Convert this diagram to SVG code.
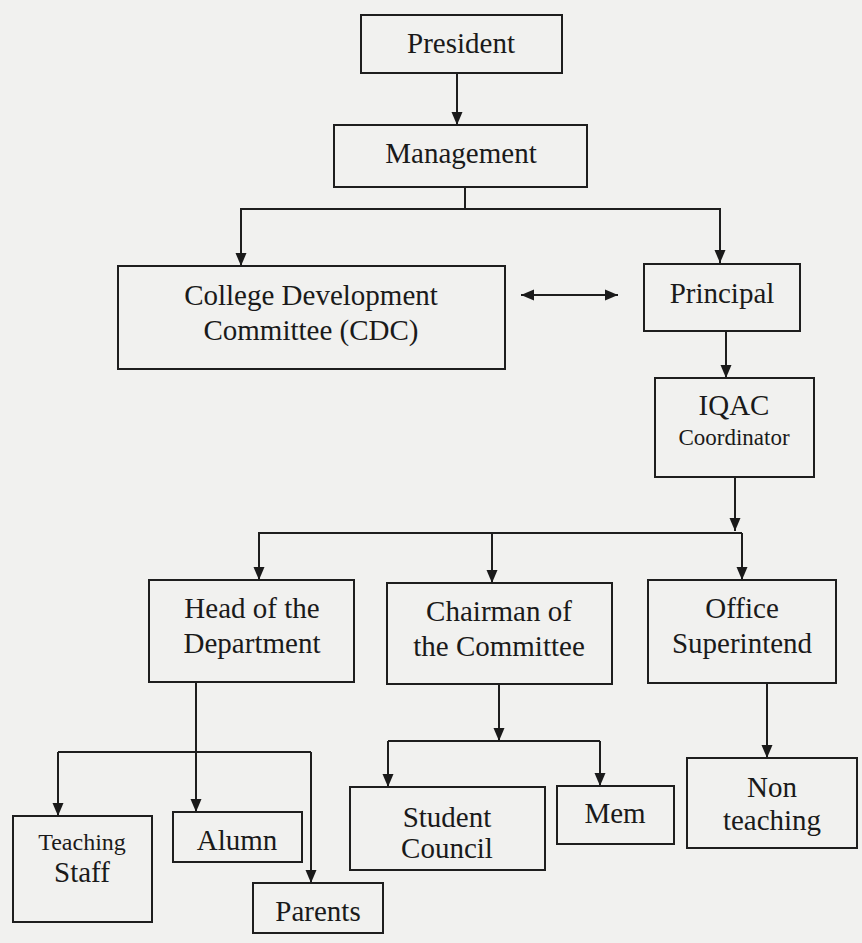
<svg xmlns="http://www.w3.org/2000/svg" width="862" height="943" viewBox="0 0 862 943">
<defs>
<marker id="arr" markerUnits="userSpaceOnUse" markerWidth="14" markerHeight="12" refX="13" refY="6" orient="auto-start-reverse">
<path d="M0,0.5 L13,6 L0,11.5 z" fill="#1a1a1a"/>
</marker>
<style>
.box{fill:none;stroke:#1e1e1e;stroke-width:2}
.t{font-family:"Liberation Serif","Times New Roman",serif;font-size:29px;fill:#1a1a1a;text-anchor:middle}
.s{font-size:23px}
.c{fill:none;stroke:#1e1e1e;stroke-width:2}
.a{marker-end:url(#arr)}
</style>
</defs>
<rect x="0" y="0" width="862" height="943" fill="#f1f1ef"/>

<g id="connectors">
<path class="c a" d="M457,73 V125"/>
<path class="c a" d="M465,187 V209 H241 V266"/>
<path class="c a" d="M465,209 H720 V263"/>
<path class="c a" d="M521,295 H618" marker-start="url(#arr)"/>
<path class="c a" d="M726,331 V378"/>
<path class="c a" d="M735,477 V531"/>
<path class="c a" d="M742,533 H259 V580"/>
<path class="c a" d="M492,533 V583"/>
<path class="c a" d="M742,533 V580"/>
<path class="c" d="M196,682 V752 M58,752 H311"/>
<path class="c a" d="M58,752 V816"/>
<path class="c a" d="M196,752 V812"/>
<path class="c a" d="M311,752 V883"/>
<path class="c a" d="M499,684 V741"/>
<path class="c" d="M388,741 H600"/>
<path class="c a" d="M388,741 V787"/>
<path class="c a" d="M600,741 V786"/>
<path class="c a" d="M767,683 V758"/>
</g>

<g id="president">
<rect class="box" x="361" y="15" width="201" height="58"/>
<text class="t" x="461" y="53">President</text>
</g>
<g id="management">
<rect class="box" x="334" y="125" width="253" height="62"/>
<text class="t" x="461" y="163">Management</text>
</g>
<g id="cdc">
<rect class="box" x="118" y="266" width="387" height="103"/>
<text class="t" x="311" y="305">College Development</text>
<text class="t" x="311" y="340">Committee (CDC)</text>
</g>
<g id="principal">
<rect class="box" x="644" y="264" width="156" height="67"/>
<text class="t" x="722" y="303">Principal</text>
</g>
<g id="iqac">
<rect class="box" x="655" y="378" width="159" height="99"/>
<text class="t" x="734" y="415">IQAC</text>
<text class="t s" x="734" y="445">Coordinator</text>
</g>
<g id="hod">
<rect class="box" x="149" y="580" width="205" height="102"/>
<text class="t" x="252" y="618">Head of the</text>
<text class="t" x="252" y="653">Department</text>
</g>
<g id="chairman">
<rect class="box" x="387" y="583" width="225" height="101"/>
<text class="t" x="499" y="621">Chairman of</text>
<text class="t" x="499" y="656">the Committee</text>
</g>
<g id="office">
<rect class="box" x="648" y="580" width="188" height="103"/>
<text class="t" x="742" y="618">Office</text>
<text class="t" x="742" y="653">Superintend</text>
</g>
<g id="teaching-staff">
<rect class="box" x="13" y="816" width="139" height="106"/>
<text class="t" x="82" y="850" style="font-size:24px">Teaching</text>
<text class="t" x="82" y="882">Staff</text>
</g>
<g id="alumn">
<rect class="box" x="173" y="812" width="129" height="50"/>
<text class="t" x="237" y="850">Alumn</text>
</g>
<g id="parents">
<rect class="box" x="253" y="883" width="130" height="50"/>
<text class="t" x="318" y="921">Parents</text>
</g>
<g id="student-council">
<rect class="box" x="350" y="787" width="195" height="83"/>
<text class="t" x="447" y="827">Student</text>
<text class="t" x="447" y="858">Council</text>
</g>
<g id="mem">
<rect class="box" x="557" y="786" width="117" height="58"/>
<text class="t" x="615" y="823">Mem</text>
</g>
<g id="non-teaching">
<rect class="box" x="687" y="758" width="170" height="90"/>
<text class="t" x="772" y="797">Non</text>
<text class="t" x="772" y="830">teaching</text>
</g>
</svg>
